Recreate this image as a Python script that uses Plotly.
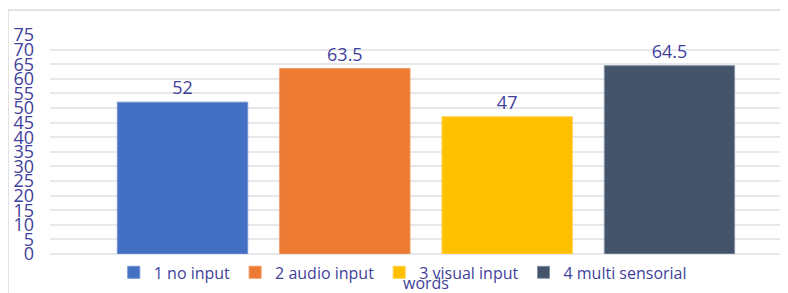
import plotly.graph_objects as go

category = ["words"]
series_names = ["1 no input", "2 audio input", "3 visual input", "4 multi sensorial"]
series_values = [52, 63.5, 47, 64.5]
series_colors = ["#4470c3", "#ec7a33", "#ffc000", "#44546a"]
series_lines = ["#6f8fd0", "#f19a63", "#ffd04d", "#8693a6"]
y_ticks = list(range(0, 80, 5))

TXT = "#3f3f9c"
FONT = "Open Sans"

fig = go.Figure()
for name, val, col, lc in zip(series_names, series_values, series_colors, series_lines):
    fig.add_trace(go.Bar(
        name=name, x=category, y=[val],
        marker=dict(color=col, line=dict(color=lc, width=1)),
        text=[val], texttemplate="%{y}", textposition="outside",
        textfont=dict(family=FONT, size=18, color=TXT),
        cliponaxis=False,
    ))

fig.update_layout(
    width=780, height=285,
    margin=dict(l=42, r=0, t=27, b=38.5, autoexpand=False),
    paper_bgcolor="white", plot_bgcolor="white",
    barmode="group", bargap=0.1366, bargroupgap=0.197,
    font=dict(family=FONT, color=TXT),
    showlegend=True,
    legend=dict(orientation="h", x=0.478, xanchor="center", y=-0.084, yanchor="middle",
                font=dict(family=FONT, size=16, color=TXT), bgcolor="rgba(0,0,0,0)",
                itemwidth=30, traceorder="normal"),
    xaxis=dict(range=[-0.5, 0.4814], showgrid=False, showline=False, zeroline=False,
               tickfont=dict(family=FONT, size=16, color=TXT), ticklabelstandoff=18),
    yaxis=dict(range=[0, 75], tickvals=y_ticks, ticktext=[str(v) for v in y_ticks],
               showgrid=True, gridcolor="#e6e8ec", gridwidth=1.5,
               zeroline=True, zerolinecolor="#e6e8ec", zerolinewidth=1.5,
               showline=False, tickfont=dict(family=FONT, size=18, color=TXT),
               ticklabelstandoff=15),
    shapes=[dict(type="rect", xref="paper", yref="paper",
                 x0=-0.0569, x1=1.05, y0=-0.3, y1=1.1139,
                 line=dict(color="#d9d9d9", width=1.5), fillcolor="rgba(0,0,0,0)",
                 layer="below")],
)

fig.write_html("out.html")
